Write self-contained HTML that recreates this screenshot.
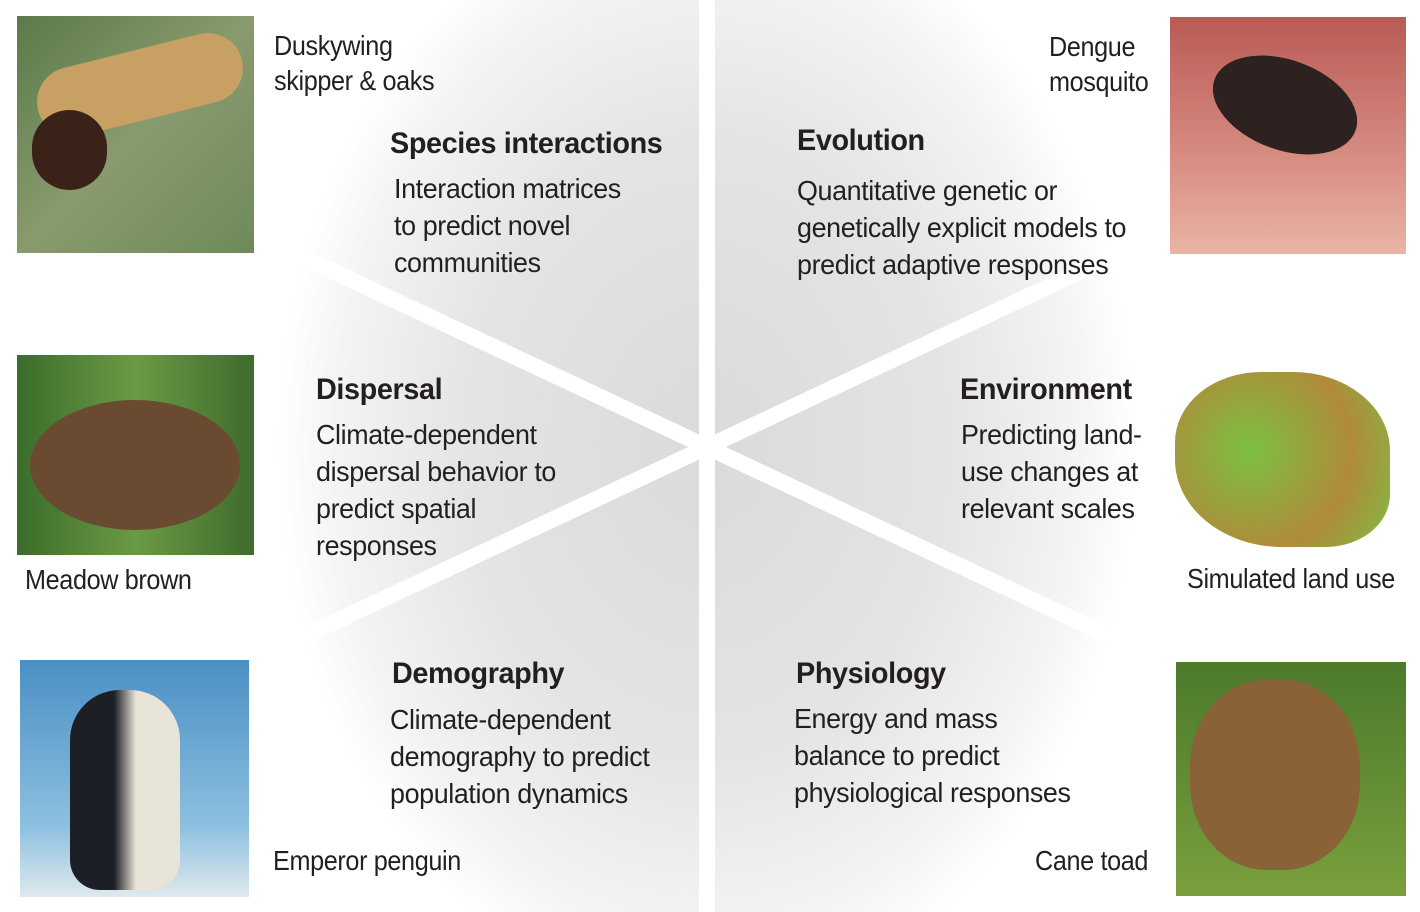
<!DOCTYPE html>
<html><head><meta charset="utf-8"><style>
body{margin:0;width:1420px;height:912px;background:#fff;position:relative;overflow:hidden;font-family:"Liberation Sans Narrow","Liberation Sans",sans-serif;color:#231f20}
.t{position:absolute;font-size:28px;line-height:37px;white-space:nowrap;letter-spacing:-0.4px;transform:scaleX(0.96);transform-origin:0 0}
.c{transform:scaleX(0.9)}
.h{font-weight:bold;font-size:30px;line-height:37px}
.p{position:absolute}
</style></head><body>
<svg class="p" style="left:0;top:0" width="1420" height="912">
<defs>
<radialGradient id="g" cx="707" cy="447" r="430" gradientUnits="userSpaceOnUse" gradientTransform="translate(707 447) scale(1 1.3) translate(-707 -447)">
<stop offset="0" stop-color="#dadadb"/><stop offset="0.55" stop-color="#e4e4e5"/><stop offset="0.85" stop-color="#f3f3f3"/><stop offset="1" stop-color="#fff"/></radialGradient>
</defs>
<rect x="260" y="0" width="900" height="912" fill="url(#g)"/>
<line x1="707" y1="0" x2="707" y2="912" stroke="#fff" stroke-width="16"/>
<line x1="707" y1="447" x2="0" y2="115" stroke="#fff" stroke-width="16"/>
<line x1="707" y1="447" x2="0" y2="779" stroke="#fff" stroke-width="16"/>
<line x1="707" y1="447" x2="1420" y2="112" stroke="#fff" stroke-width="16"/>
<line x1="707" y1="447" x2="1420" y2="782" stroke="#fff" stroke-width="16"/>
</svg>
<div class="p" style="left:17px;top:16px;width:237px;height:237px;background:linear-gradient(135deg,#5b7a4a,#889a6e 50%,#6f8a5a)"></div>
<div class="p" style="left:35px;top:50px;width:210px;height:70px;border-radius:35px;background:#c9a064;transform:rotate(-14deg)"></div>
<div class="p" style="left:32px;top:110px;width:75px;height:80px;border-radius:40px;background:#3a2218"></div>
<div class="p" style="left:1170px;top:17px;width:236px;height:237px;background:linear-gradient(180deg,#b85a55,#d88d82 60%,#e9b5a5)"></div>
<div class="p" style="left:1210px;top:60px;width:150px;height:90px;border-radius:50%;background:#2e2220;transform:rotate(20deg)"></div>
<div class="p" style="left:17px;top:355px;width:237px;height:200px;background:linear-gradient(90deg,#3b6d2a,#6b9a45 50%,#3f6b2c)"></div>
<div class="p" style="left:30px;top:400px;width:210px;height:130px;border-radius:50%;background:#6a4a30"></div>
<div class="p" style="left:1175px;top:372px;width:215px;height:175px;border-radius:40% 45% 30% 50%;background:radial-gradient(circle at 35% 45%,#7cc043,#b08a3a 60%,#7cbf44)"></div>
<div class="p" style="left:20px;top:660px;width:229px;height:237px;background:linear-gradient(180deg,#4a8fc4,#8cc0df 70%,#dfe9ef)"></div>
<div class="p" style="left:70px;top:690px;width:110px;height:200px;border-radius:50px 50px 30px 30px;background:linear-gradient(90deg,#1c1f26 40%,#e8e4d8 60%)"></div>
<div class="p" style="left:1176px;top:662px;width:230px;height:234px;background:linear-gradient(180deg,#4c7a2c,#7aa03c)"></div>
<div class="p" style="left:1190px;top:680px;width:170px;height:190px;border-radius:45%;background:#8a6238"></div>
<div class="t c" style="left:274px;top:28px;line-height:35px">Duskywing<br>skipper &amp; oaks</div>
<div class="t c" style="left:1049px;top:29px;line-height:35px">Dengue<br>mosquito</div>
<div class="t c" style="left:25px;top:561px">Meadow brown</div>
<div class="t c" style="left:1187px;top:560px">Simulated land use</div>
<div class="t c" style="left:273px;top:842px">Emperor penguin</div>
<div class="t c" style="left:1035px;top:842px">Cane toad</div>
<div class="t" style="left:390px;top:125px"><span class="h">Species interactions</span></div>
<div class="t" style="left:394px;top:170px">Interaction matrices<br>to predict novel<br>communities</div>
<div class="t" style="left:797px;top:122px"><span class="h">Evolution</span></div>
<div class="t" style="left:797px;top:172px">Quantitative genetic or<br>genetically explicit models to<br>predict adaptive responses</div>
<div class="t" style="left:316px;top:371px"><span class="h">Dispersal</span></div>
<div class="t" style="left:316px;top:416px">Climate-dependent<br>dispersal behavior to<br>predict spatial<br>responses</div>
<div class="t" style="left:960px;top:371px"><span class="h">Environment</span></div>
<div class="t" style="left:961px;top:416px">Predicting land-<br>use changes at<br>relevant scales</div>
<div class="t" style="left:392px;top:655px"><span class="h">Demography</span></div>
<div class="t" style="left:390px;top:701px">Climate-dependent<br>demography to predict<br>population dynamics</div>
<div class="t" style="left:796px;top:655px"><span class="h">Physiology</span></div>
<div class="t" style="left:794px;top:700px">Energy and mass<br>balance to predict<br>physiological responses</div>
</body></html>
